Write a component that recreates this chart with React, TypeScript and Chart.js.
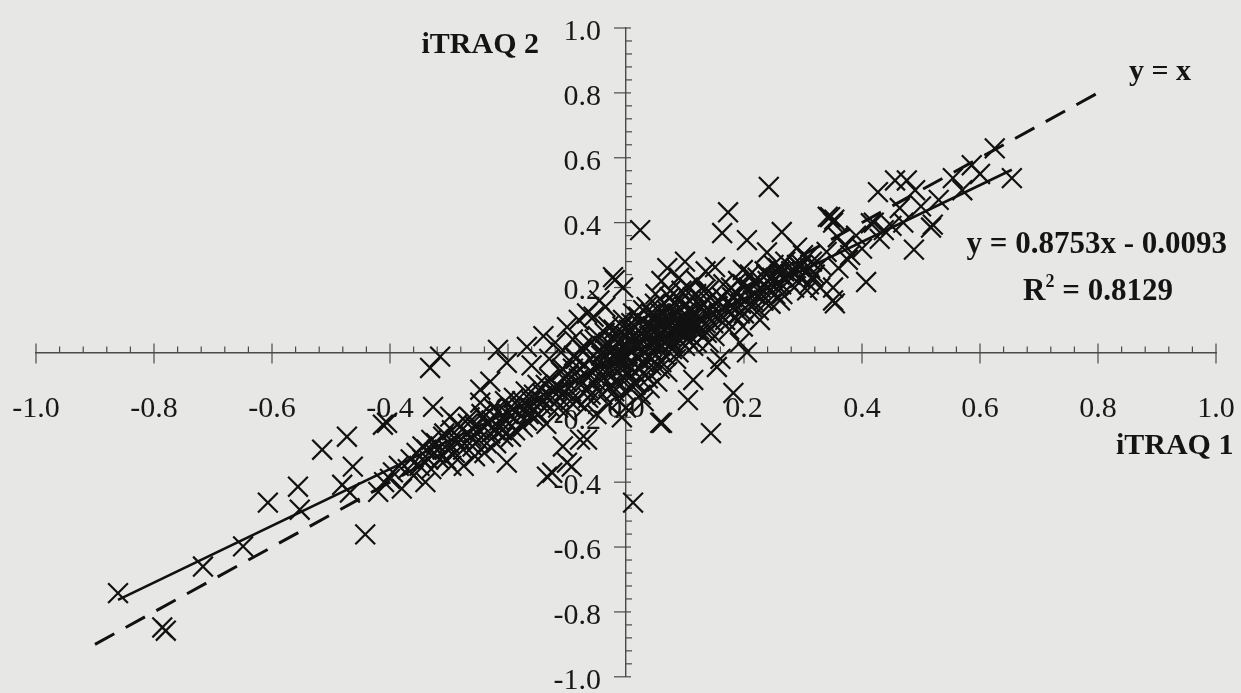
import React, { useEffect, useRef } from 'react';
import { Chart, registerables } from 'chart.js';

Chart.register(...registerables);

// ---- Data (iTRAQ 1 log ratio, iTRAQ 2 log ratio) ----
const lowerTailPoints: [number, number][] = [
  [-0.861, -0.742], [-0.786, -0.848], [-0.780, -0.858], [-0.717, -0.660], [-0.649, -0.598],
  [-0.607, -0.463], [-0.556, -0.414], [-0.553, -0.485], [-0.515, -0.300], [-0.473, -0.260],
  [-0.463, -0.352], [-0.481, -0.408], [-0.468, -0.432], [-0.442, -0.561], [-0.412, -0.223],
  [-0.42, -0.43], [-0.41, -0.40], [-0.40, -0.39], [-0.395, -0.37], [-0.385, -0.35],
  [-0.38, -0.42], [-0.37, -0.36], [-0.365, -0.33], [-0.36, -0.38], [-0.355, -0.31],
  [-0.35, -0.35], [-0.345, -0.29], [-0.34, -0.40], [-0.335, -0.33], [-0.33, -0.27],
  [-0.325, -0.31],
];

const lowerBandPoints: [number, number][] = [
  [-0.32, -0.30], [-0.31, -0.26], [-0.305, -0.33], [-0.30, -0.28], [-0.295, -0.24],
  [-0.29, -0.31], [-0.285, -0.22], [-0.28, -0.27], [-0.275, -0.35], [-0.27, -0.25],
  [-0.265, -0.20], [-0.26, -0.29], [-0.255, -0.23], [-0.25, -0.27], [-0.245, -0.19],
  [-0.24, -0.31], [-0.235, -0.22], [-0.23, -0.25], [-0.225, -0.17], [-0.22, -0.28],
  [-0.215, -0.21], [-0.21, -0.24], [-0.205, -0.15], [-0.20, -0.19], [-0.195, -0.26],
  [-0.19, -0.14], [-0.185, -0.21], [-0.18, -0.17], [-0.175, -0.23], [-0.17, -0.12],
  [-0.165, -0.19], [-0.16, -0.15], [-0.155, -0.20], [-0.15, -0.10], [-0.145, -0.16],
  [-0.14, -0.13], [-0.135, -0.22], [-0.13, -0.08], [-0.125, -0.14], [-0.12, -0.11],
  [-0.115, -0.17], [-0.11, -0.06], [-0.105, -0.12], [-0.10, -0.09],
  [-0.315, -0.013], [-0.332, -0.048], [-0.217, 0.008], [-0.168, 0.017], [-0.202, -0.032],
  [-0.23, -0.09], [-0.247, -0.115], [-0.327, -0.168], [-0.405, -0.217], [-0.298, -0.198],
  [-0.247, -0.155], [-0.202, -0.34], [-0.134, -0.383], [-0.10, -0.34], [-0.078, -0.269],
  [-0.107, -0.29], [-0.066, -0.269], [-0.125, -0.371], [-0.092, -0.352], [-0.007, -0.20],
  [0.061, -0.217], [0.012, -0.463],
  [-0.345, -0.33], [-0.338, -0.30], [-0.33, -0.36], [-0.322, -0.28], [-0.316, -0.33],
  [-0.308, -0.25], [-0.302, -0.30], [-0.296, -0.35], [-0.288, -0.27], [-0.282, -0.23],
  [-0.276, -0.30], [-0.268, -0.22], [-0.262, -0.26], [-0.256, -0.32], [-0.248, -0.24],
  [-0.242, -0.20], [-0.236, -0.28], [-0.228, -0.21], [-0.222, -0.24], [-0.216, -0.18],
  [-0.208, -0.26], [-0.202, -0.21], [-0.196, -0.17], [-0.188, -0.24], [-0.182, -0.19],
  [-0.176, -0.15], [-0.168, -0.21], [-0.162, -0.17], [-0.156, -0.13], [-0.148, -0.19],
  [-0.142, -0.15], [-0.136, -0.10], [-0.128, -0.17], [-0.122, -0.12],
];

const corePoints: [number, number][] = [
  [-0.10, 0.078], [-0.066, 0.12], [-0.055, 0.11], [-0.022, 0.232], [-0.019, 0.223],
  [-0.005, 0.20], [-0.12, 0.03], [-0.14, 0.05], [-0.09, 0.04], [-0.08, 0.10],
  [-0.13, -0.02], [-0.16, -0.04], [-0.11, 0.00], [-0.045, 0.16], [-0.035, 0.14],
  [-0.09, -0.05], [-0.085, -0.02], [-0.08, -0.08], [-0.075, 0.01], [-0.07, -0.04],
  [-0.065, -0.11], [-0.06, 0.03], [-0.058, -0.06], [-0.055, -0.01], [-0.05, -0.09],
  [-0.048, 0.05], [-0.045, -0.03], [-0.04, -0.13], [-0.038, 0.02], [-0.035, -0.06],
  [-0.03, 0.08], [-0.028, -0.02], [-0.025, -0.10], [-0.02, 0.04], [-0.018, -0.05],
  [-0.015, 0.00], [-0.012, -0.15], [-0.01, 0.06], [-0.008, -0.03], [-0.005, 0.10],
  [-0.003, -0.08], [0.0, 0.02], [0.002, -0.04], [0.005, 0.07], [0.007, -0.11],
  [0.01, 0.00], [0.012, 0.12], [0.015, -0.06], [0.018, 0.04], [0.02, -0.02],
  [0.022, 0.09], [0.025, -0.13], [0.028, 0.01], [0.03, 0.05], [0.033, -0.07],
  [0.035, 0.14], [0.038, -0.01], [0.04, 0.03], [0.043, -0.04], [0.045, 0.08],
  [0.048, 0.00], [0.05, 0.11], [0.053, -0.09], [0.055, 0.05], [0.058, 0.02],
  [0.06, -0.03], [0.063, 0.07], [0.065, 0.15], [0.068, 0.03], [0.07, -0.06],
  [0.073, 0.10], [0.075, 0.05], [0.078, 0.01], [0.08, 0.12], [0.083, 0.07],
  [0.085, -0.02], [0.088, 0.09], [0.09, 0.04], [0.093, 0.16], [0.095, 0.06],
  [0.098, 0.11], [0.10, 0.02], [0.103, 0.08], [0.105, 0.13], [0.108, 0.05],
  [0.11, 0.10], [0.113, 0.17], [0.115, 0.07], [0.118, 0.12], [0.12, 0.03],
  [-0.095, -0.15], [-0.07, -0.17], [-0.05, -0.19], [-0.02, -0.12], [0.0, -0.17],
  [0.015, -0.09], [0.03, -0.15], [-0.06, -0.13], [-0.03, -0.16], [0.04, -0.11],
  [-0.04, 0.0], [-0.02, 0.01], [0.0, -0.01], [0.01, 0.03], [0.02, 0.02],
  [0.03, -0.03], [-0.01, -0.02], [0.005, 0.04], [0.025, 0.06], [-0.03, 0.03],
  [0.045, 0.02], [0.06, 0.06], [0.035, 0.09], [-0.015, 0.05], [0.015, 0.08],
  [0.05, 0.04], [0.07, 0.08], [0.08, 0.03], [0.09, 0.07], [0.1, 0.05],
];

const denseCorePoints: [number, number][] = [
  [-0.118, -0.10], [-0.112, -0.14], [-0.108, -0.05], [-0.102, -0.18], [-0.097, -0.07],
  [-0.093, -0.12], [-0.088, -0.01], [-0.084, -0.15], [-0.079, -0.05], [-0.076, -0.10],
  [-0.072, 0.02], [-0.068, -0.07], [-0.064, -0.14], [-0.061, -0.02], [-0.057, -0.09],
  [-0.053, 0.04], [-0.049, -0.05], [-0.046, -0.12], [-0.042, -0.01], [-0.039, -0.08],
  [-0.036, 0.06], [-0.033, -0.04], [-0.029, -0.11], [-0.026, 0.01], [-0.023, -0.07],
  [-0.021, 0.07], [-0.017, -0.02], [-0.014, -0.09], [-0.011, 0.03], [-0.009, -0.05],
  [-0.006, 0.08], [-0.004, -0.01], [-0.002, -0.12], [0.001, 0.05], [0.003, -0.06],
  [0.006, 0.01], [0.009, 0.09], [0.011, -0.03], [0.013, 0.05], [0.016, -0.10],
  [0.019, 0.02], [0.021, 0.11], [0.024, -0.05], [0.027, 0.04], [0.029, 0.13],
  [0.032, 0.00], [0.034, 0.07], [0.037, -0.08], [0.039, 0.05], [0.042, 0.12],
  [0.044, -0.02], [0.047, 0.06], [0.049, 0.15], [0.052, 0.02], [0.054, 0.09],
  [0.057, -0.05], [0.059, 0.12], [0.062, 0.04], [0.064, 0.10], [0.067, -0.01],
  [0.069, 0.13], [0.072, 0.06], [0.074, 0.17], [0.077, 0.03], [0.079, 0.09],
  [0.082, 0.15], [0.084, 0.05], [0.087, 0.12], [0.089, 0.00], [0.092, 0.09],
  [0.094, 0.19], [0.097, 0.07], [0.099, 0.14], [0.102, 0.10], [0.104, 0.04],
  [0.107, 0.16], [0.109, 0.08], [0.112, 0.13], [0.114, 0.02], [0.117, 0.09],
  [0.119, 0.18], [0.122, 0.11], [0.124, 0.07], [0.127, 0.14], [0.129, 0.10],
  [0.132, 0.19], [0.134, 0.12], [0.137, 0.06], [0.139, 0.16],
];

const upperBandPoints: [number, number][] = [
  [0.173, 0.432], [0.024, 0.377], [0.163, 0.368], [0.205, 0.346], [0.264, 0.371],
  [0.346, 0.417], [0.351, 0.40], [0.151, 0.263], [0.198, 0.254], [0.239, 0.308],
  [0.29, 0.323], [0.307, 0.292], [0.329, 0.2], [0.351, 0.16], [0.239, 0.2],
  [0.261, 0.16], [0.227, 0.1], [0.198, 0.08], [0.193, 0.03], [0.205, 0.0],
  [0.154, -0.045], [0.114, -0.085], [0.105, -0.147], [0.058, -0.217], [0.144, -0.249],
  [0.182, -0.125],
  [0.13, 0.15], [0.135, 0.09], [0.14, 0.19], [0.145, 0.12], [0.15, 0.05],
  [0.155, 0.16], [0.16, 0.10], [0.165, 0.21], [0.17, 0.13], [0.175, 0.07],
  [0.18, 0.17], [0.185, 0.11], [0.19, 0.22], [0.195, 0.15], [0.2, 0.12],
  [0.205, 0.19], [0.21, 0.24], [0.215, 0.16], [0.22, 0.21], [0.225, 0.13],
  [0.23, 0.18], [0.235, 0.25], [0.24, 0.22], [0.245, 0.15], [0.25, 0.27],
  [0.255, 0.21], [0.26, 0.24], [0.265, 0.18], [0.27, 0.28], [0.275, 0.22],
  [0.28, 0.25], [0.285, 0.20], [0.29, 0.27], [0.295, 0.23], [0.30, 0.30],
  [0.305, 0.25], [0.31, 0.21], [0.315, 0.28], [0.32, 0.24], [0.125, 0.06],
  [0.14, 0.03], [0.16, -0.02], [0.12, 0.22], [0.135, 0.25], [0.105, 0.20],
  [0.09, 0.23], [0.075, 0.19], [0.06, 0.22], [0.05, 0.18], [0.07, 0.26], [0.10, 0.28],
  [0.242, 0.51],
  [0.142, 0.13], [0.148, 0.09], [0.153, 0.15], [0.158, 0.12], [0.163, 0.17],
  [0.168, 0.10], [0.173, 0.15], [0.178, 0.20], [0.183, 0.14], [0.188, 0.18],
  [0.193, 0.12], [0.198, 0.21], [0.203, 0.16], [0.208, 0.20], [0.213, 0.14],
  [0.218, 0.18], [0.223, 0.23], [0.228, 0.20], [0.233, 0.16], [0.238, 0.24],
  [0.243, 0.19], [0.248, 0.23], [0.253, 0.18], [0.258, 0.26], [0.263, 0.21],
  [0.268, 0.25], [0.278, 0.24], [0.288, 0.26], [0.298, 0.27], [0.312, 0.26],
];

const upperTailPoints: [number, number][] = [
  [0.654, 0.537], [0.625, 0.629], [0.586, 0.577], [0.554, 0.537], [0.49, 0.5],
  [0.476, 0.53], [0.456, 0.53], [0.427, 0.494], [0.464, 0.445], [0.415, 0.398],
  [0.437, 0.377], [0.52, 0.394], [0.517, 0.385], [0.488, 0.317], [0.407, 0.217],
  [0.353, 0.409], [0.342, 0.418], [0.359, 0.355], [0.376, 0.285], [0.354, 0.151],
  [0.351, 0.2], [0.317, 0.231], [0.307, 0.191], [0.295, 0.262],
  [0.37, 0.33], [0.38, 0.30], [0.39, 0.36], [0.40, 0.32], [0.42, 0.40],
  [0.43, 0.35], [0.45, 0.39], [0.47, 0.40], [0.5, 0.45], [0.53, 0.47],
  [0.57, 0.50], [0.60, 0.55], [0.36, 0.26], [0.33, 0.27], [0.34, 0.31],
];

const trendSlope = 0.8753;
const trendIntercept = -0.0093;
const r2Value = '0.8129';
const identityRange = [-0.9, 0.8];
const axisMin = -1;
const axisMax = 1;
const minorStep = 0.04;
const xTitle = 'iTRAQ 1';
const yTitle = 'iTRAQ 2';
const equationText = 'y = 0.8753x - 0.0093';
const identityText = 'y = x';

const SERIF = "'Liberation Serif', 'Times New Roman', Times, serif";
const INK = '#121212';

const allPoints = [
  ...lowerTailPoints,
  ...lowerBandPoints,
  ...corePoints,
  ...denseCorePoints,
  ...upperBandPoints,
  ...upperTailPoints,
];

const isMajor = (v: number) => Math.abs(v * 5 - Math.round(v * 5)) < 1e-6;
const fmt = (v: number) => (Math.round(v * 5) / 5).toFixed(1);

const axesPlugin = {
  id: 'crossAxes',
  beforeDatasetsDraw(chart: any) {
    const { ctx } = chart;
    const xs = chart.scales.x;
    const ys = chart.scales.y;
    const x0 = xs.getPixelForValue(0);
    const y0 = ys.getPixelForValue(0);
    ctx.save();
    ctx.strokeStyle = '#4a4a4a';
    ctx.lineWidth = 1.2;
    ctx.fillStyle = '#181818';
    ctx.font = `30px ${SERIF}`;
    xs.ticks.forEach((t: any) => {
      const px = xs.getPixelForValue(t.value);
      ctx.beginPath();
      if (isMajor(t.value)) {
        ctx.moveTo(px, y0 - 9);
        ctx.lineTo(px, y0 + 11);
      } else {
        ctx.moveTo(px, y0 - 6);
        ctx.lineTo(px, y0);
      }
      ctx.stroke();
      if (isMajor(t.value)) {
        ctx.textAlign = 'center';
        ctx.textBaseline = 'middle';
        ctx.fillText(fmt(t.value), px, y0 + 57);
      }
    });
    ys.ticks.forEach((t: any) => {
      const py = ys.getPixelForValue(t.value);
      ctx.beginPath();
      if (isMajor(t.value)) {
        ctx.moveTo(x0 - 12, py);
        ctx.lineTo(x0 + 5, py);
      } else {
        ctx.moveTo(x0, py);
        ctx.lineTo(x0 + 6, py);
      }
      ctx.stroke();
      if (isMajor(t.value) && Math.abs(t.value) > 1e-6) {
        ctx.textAlign = 'right';
        ctx.textBaseline = 'middle';
        ctx.fillText(fmt(t.value), x0 - 25, py + 4);
      }
    });
    ctx.restore();
  },
  afterDraw(chart: any) {
    const { ctx } = chart;
    const xs = chart.scales.x;
    const ys = chart.scales.y;
    const P = (x: number, y: number) => [xs.getPixelForValue(x), ys.getPixelForValue(y)];
    ctx.save();
    ctx.fillStyle = '#141414';
    ctx.textBaseline = 'middle';
    ctx.textAlign = 'center';
    ctx.font = `bold 30px ${SERIF}`;
    let [px, py] = P(-0.247, 0.946);
    ctx.fillText(yTitle, px, py);
    [px, py] = P(0.93, -0.29);
    ctx.fillText(xTitle, px, py);
    [px, py] = P(0.905, 0.863);
    ctx.fillText(identityText, px, py);
    ctx.font = `bold 31px ${SERIF}`;
    [px, py] = P(0.798, 0.331);
    ctx.fillText(equationText, px, py);
    [px, py] = P(0.80, 0.186);
    const partR = 'R';
    const partRest = ' = ' + r2Value;
    ctx.font = `bold 31px ${SERIF}`;
    const wR = ctx.measureText(partR).width;
    const wRest = ctx.measureText(partRest).width;
    ctx.font = `bold 18px ${SERIF}`;
    const wSup = ctx.measureText('2').width;
    const total = wR + wSup + wRest;
    let cx = px - total / 2;
    ctx.textAlign = 'left';
    ctx.font = `bold 31px ${SERIF}`;
    ctx.fillText(partR, cx, py);
    cx += wR;
    ctx.font = `bold 18px ${SERIF}`;
    ctx.fillText('2', cx, py - 10);
    cx += wSup;
    ctx.font = `bold 31px ${SERIF}`;
    ctx.fillText(partRest, cx, py);
    ctx.restore();
  },
};

export default function App() {
  const canvasRef = useRef<HTMLCanvasElement | null>(null);

  useEffect(() => {
    const canvas = canvasRef.current;
    if (!canvas) return;
    const xsData = allPoints.map((p) => p[0]);
    const trendMinX = Math.min(...xsData);
    const trendMaxX = Math.max(...xsData);
    const chart = new Chart(canvas, {
      type: 'scatter',
      data: {
        datasets: [
          {
            type: 'line',
            label: 'Linear fit',
            data: [
              { x: trendMinX, y: trendSlope * trendMinX + trendIntercept },
              { x: trendMaxX, y: trendSlope * trendMaxX + trendIntercept },
            ],
            borderColor: '#111',
            borderWidth: 2.6,
            pointRadius: 0,
            fill: false,
          } as any,
          {
            type: 'line',
            label: 'y = x',
            data: [
              { x: identityRange[0], y: identityRange[0] },
              { x: identityRange[1], y: identityRange[1] },
            ],
            borderColor: '#111',
            borderWidth: 3,
            borderDash: [22, 13],
            pointRadius: 0,
            fill: false,
          } as any,
          {
            label: 'Proteins',
            data: allPoints.map(([x, y]) => ({ x, y })),
            pointStyle: 'crossRot',
            pointRadius: 14,
            pointBorderWidth: 2.2,
            borderColor: INK,
            backgroundColor: INK,
            showLine: false,
          } as any,
        ],
      },
      options: {
        responsive: false,
        animation: false,
        devicePixelRatio: 1,
        layout: { padding: { left: 36, right: 25, top: 28, bottom: 16 } },
        plugins: {
          legend: { display: false },
          tooltip: { enabled: false },
        },
        scales: {
          x: {
            type: 'linear',
            min: axisMin,
            max: axisMax,
            position: { y: 0 } as any,
            grid: { display: false },
            border: { display: true, color: '#4a4a4a', width: 1.4 },
            ticks: { display: false, stepSize: minorStep, maxTicksLimit: 100, autoSkip: false },
          },
          y: {
            type: 'linear',
            min: axisMin,
            max: axisMax,
            position: { x: 0 } as any,
            grid: { display: false },
            border: { display: true, color: '#4a4a4a', width: 1.4 },
            ticks: { display: false, stepSize: minorStep, maxTicksLimit: 100, autoSkip: false },
          },
        },
      } as any,
      plugins: [axesPlugin],
    });
    return () => chart.destroy();
  }, []);

  return (
    <div
      style={{
        position: 'absolute',
        left: 0,
        top: 0,
        width: 1241,
        height: 693,
        background: '#e7e7e5',
        overflow: 'hidden',
      }}
    >
      <canvas ref={canvasRef} width={1241} height={693} style={{ display: 'block' }} />
    </div>
  );
}
